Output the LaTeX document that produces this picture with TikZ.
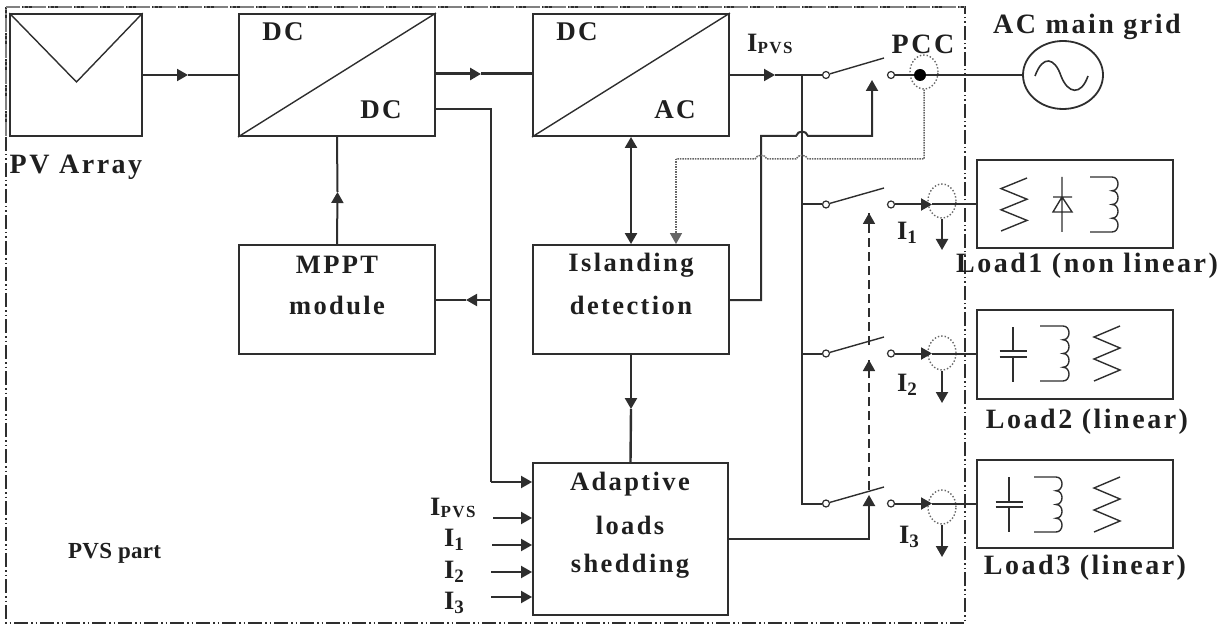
\documentclass[tikz,border=0pt]{standalone}
\usepackage{fontspec}
\setmainfont{Liberation Serif}[LetterSpace=9]
\newfontfamily\tightfont{Liberation Serif}[LetterSpace=1]
\usetikzlibrary{arrows.meta,shapes.geometric}
\definecolor{ink}{HTML}{2E2E2E}
\newcommand{\lowsub}[1]{\raisebox{-4pt}{\fontsize{19}{19}\selectfont #1}}
\newcommand{\pvssub}{\raisebox{-2pt}{\fontsize{17}{17}\selectfont PVS}}
\newcommand{\indsym}[4]{% x0, xe, ytop, height
  \draw[sym] (#1,#3) -- ({#2-8},#3)
   .. controls (#2,#3) and (#2,{#3+#4/4}) .. ({#2-8},{#3+#4/4})
   .. controls (#2,{#3+#4/4}) and (#2,{#3+#4/2}) .. ({#2-8},{#3+#4/2})
   .. controls (#2,{#3+#4/2}) and (#2,{#3+3*#4/4}) .. ({#2-8},{#3+3*#4/4})
   .. controls (#2,{#3+3*#4/4}) and (#2,{#3+#4}) .. ({#2-8},{#3+#4})
   -- (#1,{#3+#4});}
\newcommand{\ressym}[4]{% xl, xr, ytop, height
  \draw[sym] (#2,#3) -- (#1,{#3+#4*0.2}) -- (#2,{#3+#4*0.4}) -- (#1,{#3+#4*0.6}) -- (#2,{#3+#4*0.8}) -- (#1,{#3+#4});}
\newcommand{\capsym}[5]{% x, ytop, ybot, plate1, plate2
  \draw[sym] (#1,#2) -- (#1,#4) (#1,#5) -- (#1,#3)
   ({#1-13.5},#4) -- ({#1+13.5},#4) ({#1-13.5},#5) -- ({#1+13.5},#5);}
\tikzset{
  x=1pt,y=-1pt,
  conn/.style={draw=ink,line width=2pt},
  arr/.style={conn,-{Triangle[length=11pt,width=12pt]}},
  boxn/.style={draw=ink,line width=1.9pt,inner sep=0pt},
  sym/.style={draw=ink,line width=1.4pt,line join=miter},
  lab/.style={font=\fontsize{27}{27}\selectfont\bfseries,text=black!88,inner sep=0pt},
  txt/.style={lab,font=\fontsize{26.5}{26.5}\selectfont\bfseries},
  outer/.style={lab,font=\fontsize{28}{28}\selectfont\bfseries},
  contact/.style={circle,draw=ink,line width=1.2pt,minimum size=7pt,inner sep=0pt,fill=white},
  sensor/.style={ellipse,draw=gray!80!black,dotted,line width=1.4pt,minimum width=28pt,minimum height=34pt,inner sep=0pt},
  dotline/.style={draw=gray!80!black,line width=1.5pt,densely dotted},
  dashline/.style={draw=ink,line width=1.7pt,dash pattern=on 9pt off 5pt},
}
\begin{document}
\begin{tikzpicture}
\useasboundingbox (0,0) rectangle (1225,628);
% frame
\draw[draw=ink,line width=1.1pt,dash pattern=on 14pt off 3pt on 1.5pt off 3pt on 1.5pt off 3pt] (6,7) rectangle (965,623);
\draw[draw=gray,line width=2.4pt,dash pattern=on 14pt off 3pt on 1.5pt off 3pt on 1.5pt off 3pt] (6,7) -- (965,7);
\draw[draw=gray,line width=2.4pt,dash pattern=on 14pt off 3pt on 1.5pt off 3pt on 1.5pt off 3pt] (6,136) -- (6,7);
% blocks
\node[boxn,minimum width=131.5pt,minimum height=122pt] (pv) at (76,75) {};
\node[boxn,minimum width=196pt,minimum height=122pt] (dcdc) at (337,75) {};
\node[boxn,minimum width=196pt,minimum height=122pt] (dcac) at (631,75) {};
\node[boxn,minimum width=196pt,minimum height=109pt] (mppt) at (337,299.5) {};
\node[boxn,minimum width=196pt,minimum height=109pt] (isl) at (631,299.5) {};
\node[boxn,minimum width=195pt,minimum height=152pt] (als) at (630.5,539) {};
\node[boxn,minimum width=196pt,minimum height=88pt] (l1) at (1075,204) {};
\node[boxn,minimum width=196pt,minimum height=89pt] (l2) at (1075,354.5) {};
\node[boxn,minimum width=196pt,minimum height=88pt] (l3) at (1075,504) {};
\node[draw=ink,line width=1.8pt,ellipse,minimum width=80pt,minimum height=68pt,inner sep=0pt] (grid) at (1063,75) {};
% block interiors
\coordinate (apex) at (76.5,82);
\draw[sym] (pv.north west) -- (apex) -- (pv.north east);
\draw[sym] (dcdc.south west) -- (dcdc.north east);
\draw[sym] (dcac.south west) -- (dcac.north east);
\draw[sym,line width=1.6pt] (1035,76) .. controls (1043,54) and (1055,58) .. (1061,76) .. controls (1068,94) and (1081,96) .. (1088,76);
% texts
\node[lab] (t1) at (283,32) {DC};
\node[lab] (t2) at (381,110) {DC};
\node[lab] (t3) at (577,32) {DC};
\node[lab] (t4) at (675,110) {AC};
\node[outer] (t5) at (76,167) {PV Array};
\node[txt] (t6) at (337,265) {MPPT};
\node[txt] (t7) at (337,305) {module};
\node[txt] (t8) at (631,265) {Islanding};
\node[txt] (t9) at (631,305) {detection};
\node[txt] (t10) at (630,484) {Adaptive};
\node[txt] (t11) at (630,525) {loads};
\node[txt] (t12) at (630,566) {shedding};
\node[txt,anchor=west] (t13) at (68,553) {\tightfont\bfseries\fontsize{23}{23}\selectfont PVS part};
\node[outer] (t14) at (1087,27) {AC main grid};
\node[outer] (t15) at (923,44) {PCC};
\node[txt,anchor=west] (t16) at (747,44) {I\pvssub};
\node[txt] (t17) at (907,233) {I\lowsub{1}};
\node[txt] (t18) at (907,385) {I\lowsub{2}};
\node[txt] (t19) at (909,537) {I\lowsub{3}};
\node[outer] (t20) at (1087,266) {Load1 (non linear)};
\node[outer] (t21) at (1087,422) {Load2 (linear)};
\node[outer] (t22) at (1085,568) {Load3 (linear)};
\node[txt,anchor=west] (t23) at (430,508) {I\pvssub};
\node[txt] (t24) at (454,540) {I\lowsub{1}};
\node[txt] (t25) at (454,572) {I\lowsub{2}};
\node[txt] (t26) at (454,603) {I\lowsub{3}};
% top chain
\coordinate (a1) at (188,75);
\draw[arr] (pv.east |- a1) -- (a1);
\draw[conn] (a1) -- (dcdc.west |- a1);
\coordinate (a2) at (481,74);
\draw[arr,line width=3pt] (dcdc.east |- a2) -- (a2);
\draw[conn,line width=3pt] (a2) -- (dcac.west |- a2);
% contacts
\node[contact] (s0a) at (826,75) {};
\node[contact] (s0b) at (891,75) {};
\node[contact] (s1a) at (826,204.5) {};
\node[contact] (s1b) at (891,204.5) {};
\node[contact] (s2a) at (826,353.5) {};
\node[contact] (s2b) at (891,353.5) {};
\node[contact] (s3a) at (826,503.5) {};
\node[contact] (s3b) at (891,503.5) {};
\coordinate (b0) at (884,58);
\coordinate (b1) at (884,188);
\coordinate (b2) at (884,337);
\coordinate (b3) at (884,487);
\draw[sym] (s0a) -- (b0) (s1a) -- (b1) (s2a) -- (b2) (s3a) -- (b3);
% pvs current and bus
\coordinate (a3) at (775,75);
\coordinate (bus0) at (802,75);
\coordinate (bus3) at (802,503.5);
\draw[arr] (dcac.east |- a3) -- (a3);
\draw[conn] (a3) -- (bus0) -- (s0a);
\draw[conn] (bus0) -- (bus3) -- (s3a);
\draw[conn] (bus0 |- s1a) -- (s1a);
\draw[conn] (bus0 |- s2a) -- (s2a);
% PCC
\node[sensor] (pcc) at (924,72) {};
\node[circle,fill=black,minimum size=12pt,inner sep=0pt] (pccdot) at (920,75) {};
\draw[conn] (s0b) -- (pccdot) -- (grid.west);
% load feeds
\node[sensor] (e1) at (942,201) {};
\node[sensor] (e2) at (942,353) {};
\node[sensor] (e3) at (942,507) {};
\coordinate (f1) at (932,204.5);
\coordinate (f2) at (932,353.5);
\coordinate (f3) at (932,503.5);
\draw[arr] (s1b) -- (f1);
\draw[conn] (f1) -- (l1.west |- f1);
\draw[arr] (s2b) -- (f2);
\draw[conn] (f2) -- (l2.west |- f2);
\draw[arr] (s3b) -- (f3);
\draw[conn] (f3) -- (l3.west |- f3);
\coordinate (d1) at (942,250);
\coordinate (d2) at (942,403);
\coordinate (d3) at (942,557);
\draw[arr] (e1.south) -- (d1);
\draw[arr] (e2.south) -- (d2);
\draw[arr] (e3.south) -- (d3);
% DC-DC to shedding and MPPT
\coordinate (r1) at (491,109);
\coordinate (r2) at (491,482);
\coordinate (r3) at (491,300);
\coordinate (r4) at (466,300);
\draw[conn] (dcdc.east |- r1) -- (r1) -- (r2);
\draw[arr] (r2) -- (als.west |- r2);
\draw[arr] (r3) -- (r4);
\draw[conn] (r4) -- (mppt.east |- r4);
\coordinate (m1) at (337.5,192);
\draw[arr] (mppt.north) -- (m1);
\draw[conn] (m1) -- (dcdc.south);
% inverter - islanding
\draw[conn,line width=2.4pt,{Triangle[length=11pt,width=12pt]}-{Triangle[length=11pt,width=12pt]}] (dcac.south) -- (isl.north);
\coordinate (i1) at (631,409);
\draw[arr,line width=2.4pt] (isl.south) -- (i1);
\draw[conn,line width=2.4pt] (i1) -- (als.north);
% islanding to switch, bump across bus
\coordinate (c1) at (761,300);
\coordinate (c2) at (761,136);
\coordinate (c3) at (872,136);
\coordinate (c4) at (872,80);
\draw[arr] (isl.east |- c1) -- (c1) -- (c2) -- (796,136) .. controls (798,130) and (806,130) .. (808,136) -- (c3) -- (c4);
% PCC sensing, dotted
\coordinate (p1) at (924,159);
\coordinate (p2) at (676,159);
\draw[dotline] (pcc.south) -- (p1) -- (808,159) .. controls (806,154) and (798,154) .. (796,159) -- (767,159) .. controls (765,154) and (757,154) .. (755,159) -- (p2);
\draw[dotline,-{Triangle[length=11pt,width=12pt]}] (p2) -- (p2 |- isl.north);
% load shedding control
\coordinate (k1) at (869,539);
\coordinate (k2) at (869,495);
\coordinate (k3) at (869,360);
\coordinate (k4) at (869,213);
\draw[arr] (als.east |- k1) -- (k1) -- (k2);
\draw[dashline] (869,490) -- (k3);
\draw[draw=ink,line width=1.7pt,-{Triangle[length=11pt,width=12pt]}] (869,376) -- (k3);
\draw[dashline] (869,345) -- (k4);
\draw[draw=ink,line width=1.7pt,-{Triangle[length=11pt,width=12pt]}] (869,232) -- (k4);
% shedding inputs
\coordinate (n0) at (493,518);
\coordinate (n1) at (492,545);
\coordinate (n2) at (491,572);
\coordinate (n3) at (491,597);
\draw[arr] (n0) -- (als.west |- n0);
\draw[arr] (n1) -- (als.west |- n1);
\draw[arr] (n2) -- (als.west |- n2);
\draw[arr] (n3) -- (als.west |- n3);
% load symbols
\ressym{1001}{1027}{178}{53}
\draw[sym] (1062,177) -- (1062,232) (1053,197) -- (1072,197) (1062,197) -- (1053,212) -- (1072,212) -- cycle;
\indsym{1090}{1120}{177}{55}
\capsym{1013}{327}{382}{351}{357}
\indsym{1040}{1071}{326}{55}
\ressym{1094}{1120}{326}{55}
\capsym{1009}{477}{532}{502}{507}
\indsym{1034}{1064}{477}{55}
\ressym{1094}{1120}{477}{55}
\end{tikzpicture}
\end{document}
